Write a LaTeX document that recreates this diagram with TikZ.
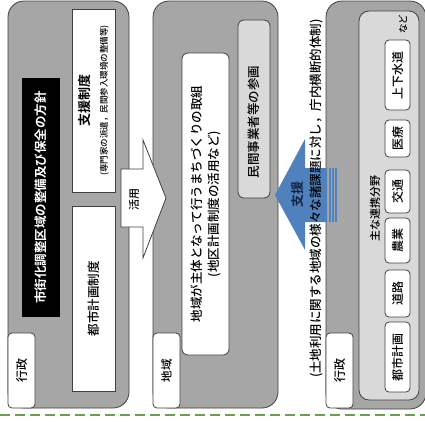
\documentclass[tikz,border=0pt]{standalone}
\usepackage{fontspec}
\setmainfont{Noto Sans CJK JP Medium}[BoldFont={Noto Sans CJK JP Bold}]
\definecolor{panelgray}{RGB}{166,166,166}
\definecolor{lightgray2}{RGB}{217,217,217}
\definecolor{edgegray}{RGB}{64,64,64}
\definecolor{arrowblue}{RGB}{79,129,189}
\definecolor{dashgreen}{RGB}{106,158,82}
\definecolor{navytext}{RGB}{20,36,66}

\tikzset{
  panel/.style={draw=edgegray, fill=panelgray, line width=0.8pt, rounded corners=16pt, rotate=90, inner sep=0pt},
  tabbox/.style={draw=edgegray, fill=white, line width=0.8pt, rounded corners=4pt, rotate=90, inner sep=0pt,
    minimum width=75pt, minimum height=27pt, font=\fontsize{12}{14}\selectfont},
  titlebox/.style={fill=black, text=white, rotate=90, inner sep=0pt, font=\bfseries\fontsize{12.5}{15}\selectfont},
  whitebox/.style={draw=edgegray, fill=white, line width=0.8pt, rotate=90, inner sep=0pt, align=center,
    font=\fontsize{12.5}{15}\selectfont},
  graybox/.style={draw=edgegray, fill=lightgray2, line width=0.8pt, rounded corners=6pt, rotate=90, inner sep=0pt},
  fieldbox/.style={draw=edgegray, fill=white, line width=0.8pt, rounded corners=4pt, rotate=90, inner sep=0pt,
    minimum height=25pt, font=\fontsize{12}{14}\selectfont},
  vtext/.style={rotate=90, inner sep=0pt, font=\fontsize{12.5}{15}\selectfont}
}

\begin{document}
\begin{tikzpicture}[x=1pt, y=-1pt]
  \useasboundingbox (0,0) rectangle (425,421);

  % three panels with their tabs
  \node[panel, minimum width=407pt, minimum height=121pt] (pnlcity) at (68.5,204.5) {};
  \node[panel, minimum width=407pt, minimum height=125pt] (pnlarea) at (215.5,204.5) {};
  \node[panel, minimum width=408pt, minimum height=100pt] (pnlcoop) at (376,205) {};

  \node[tabbox] (tabcity) at (21.5,370.5) {行政};
  \node[tabbox, font=\fontsize{11.5}{14}\selectfont] (tabarea) at (166.5,370.5) {地域};
  \node[tabbox] (tabcoop) at (339.5,370.5) {行政};

  % left panel
  \node[titlebox, minimum width=239pt, minimum height=38pt] (policy) at (41,197.5) {市街化調整区域の整備及び保全の方針};
  \node[whitebox, minimum width=183pt, minimum height=43pt] (support) at (93.5,100.5)
    {{\bfseries\fontsize{13}{15}\selectfont 支援制度}\\[3pt]{\fontsize{8.5}{10}\selectfont (専門家の派遣，民間参入環境の整備等)}};
  \node[whitebox, minimum width=185pt, minimum height=43pt] (plansys) at (93.5,298.5) {都市計画制度};

  % middle panel
  \node[whitebox, rounded corners=6pt, minimum width=302pt, minimum height=47pt] (local) at (205.5,204)
    {地域が主体となって行うまちづくりの取組\\[2pt](地区計画制度の活用など)};
  \node[graybox, minimum width=178pt, minimum height=32pt] (private) at (254,109) {};
  \node[vtext] (privatetxt) at (254,122) {民間事業者等の参画};

  % right panel
  \node[graybox, rounded corners=10pt, minimum width=389pt, minimum height=60pt] (fields) at (389,205.5) {};
  \node[vtext, font=\fontsize{11}{13}\selectfont] (fieldtitle) at (375,208) {主な連携分野};
  \node[vtext, font=\fontsize{9.5}{12}\selectfont] (etc) at (403,24) {など};
  \node[fieldbox, minimum width=70pt] (water) at (397.5,75) {上下水道};
  \node[fieldbox, minimum width=37pt] (medical) at (397.5,138.5) {医療};
  \node[fieldbox, minimum width=43pt] (traffic) at (397.5,191.5) {交通};
  \node[fieldbox, minimum width=45pt] (farm) at (397.5,240.5) {農業};
  \node[fieldbox, minimum width=47pt] (road) at (397.5,293.5) {道路};
  \node[fieldbox, minimum width=70pt] (urban) at (397.5,357) {都市計画};

  % block arrows
  \draw[edgegray, fill=white, line width=0.8pt] (121,169) -- (143,169) -- (143,140) -- (166,198)
    -- (143,258) -- (143,227) -- (121,227) -- cycle;
  \node[vtext, font=\fontsize{11}{13}\selectfont] (use) at (134,199) {活用};

  \fill[arrowblue] (275,195) -- (305,139) -- (305,168) -- (327,168) -- (327,222) -- (305,222) -- (305,250) -- cycle;
  \foreach \sx in {330,333,336}
    \fill[arrowblue] (\sx-0.8,168) rectangle (\sx+0.8,222);
  \node[vtext, text=navytext, font=\bfseries\fontsize{13}{15}\selectfont] (aid) at (298,194) {支援};

  \node[vtext] (issues) at (316,198.5) {(土地利用に関する地域の様々な諸課題に対し，庁内横断的体制)};

  % boundary line
  \coordinate (lineL) at (0,415);
  \coordinate (lineR) at (425,415);
  \draw[dashgreen, line width=1.8pt, dash pattern=on 10pt off 5pt] (lineL) -- (lineR);
\end{tikzpicture}
\end{document}
